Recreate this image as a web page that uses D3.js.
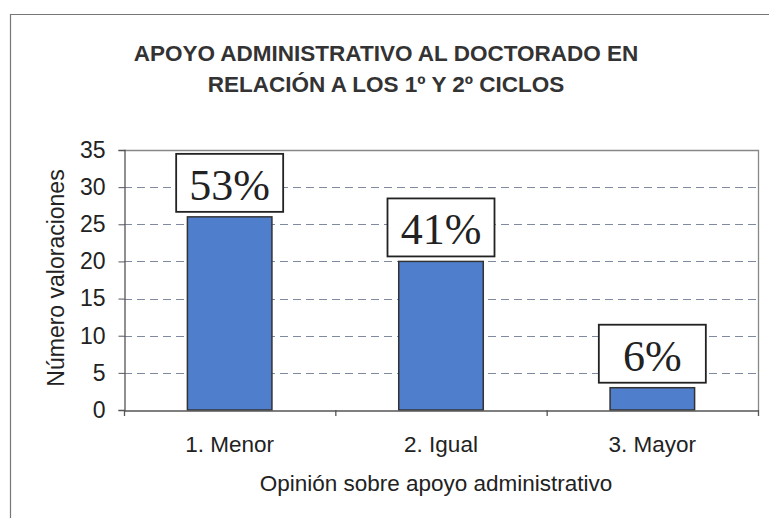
<!DOCTYPE html>
<html>
<head>
<meta charset="utf-8">
<script src="https://cdn.jsdelivr.net/npm/d3@7"></script>
<style>
  html, body { margin: 0; padding: 0; background: #fff; }
  svg { display: block; }
  text { font-family: "Liberation Sans", Arial, sans-serif; fill: #222; }
</style>
</head>
<body>
<svg id="chart" width="769" height="518"></svg>
<script>
const categories = ["1. Menor", "2. Igual", "3. Mayor"];
const values = [26, 20, 3];
const percentLabels = ["53%", "41%", "6%"];
const yTicks = [0, 5, 10, 15, 20, 25, 30, 35];
const titleLines = ["APOYO ADMINISTRATIVO AL DOCTORADO EN", "RELACIÓN A LOS 1º Y 2º CICLOS"];
const yTitle = "Número valoraciones";
const xTitle = "Opinión sobre apoyo administrativo";

const svg = d3.select("#chart");
const W = 769, H = 518;
const plot = { left: 124, top: 150, right: 758, bottom: 410 };
const sans = "'Liberation Sans', Arial, sans-serif";

// outer border (only left/top visible in frame)
svg.append("path")
  .attr("d", `M10.5,${H} L10.5,14.5 L${W},14.5`)
  .attr("fill", "none").attr("stroke", "#777").attr("stroke-width", 1.2);

// title
const title = svg.append("text")
  .attr("text-anchor", "middle")
  .style("font-weight", "bold").style("font-size", "22.5px").style("fill", "#333");
titleLines.forEach((t, i) => {
  title.append("tspan").attr("x", 386).attr("y", 61 + i * 31).text(t);
});

const x = d3.scaleBand().domain(categories).range([plot.left, plot.right]).paddingInner(0.6).paddingOuter(0.3);
const xOuter = d3.scaleBand().domain(categories).range([plot.left, plot.right]);
const y = d3.scaleLinear().domain([0, 35]).range([plot.bottom, plot.top]);

// gridlines
svg.append("g").selectAll("line").data(yTicks.filter(d => d > 0 && d < 35)).join("line")
  .attr("x1", plot.left).attr("x2", plot.right)
  .attr("y1", d => Math.round(y(d)) + 0.5).attr("y2", d => Math.round(y(d)) + 0.5)
  .attr("stroke", "#7f8aa0").attr("stroke-width", 1).attr("stroke-dasharray", "8,5");

// plot area border (top/right)
svg.append("path")
  .attr("d", `M${plot.left},${plot.top + 0.5} L${plot.right + 0.5},${plot.top + 0.5} L${plot.right + 0.5},${plot.bottom}`)
  .attr("fill", "none").attr("stroke", "#888").attr("stroke-width", 1.3);

// bars
svg.append("g").selectAll("rect").data(values).join("rect")
  .attr("x", (d, i) => x(categories[i]))
  .attr("y", d => y(d))
  .attr("width", x.bandwidth())
  .attr("height", d => y(0) - y(d))
  .attr("fill", "#4f7fcc").attr("stroke", "#333").attr("stroke-width", 1.5);

// y axis
const yAxis = d3.axisLeft(y).tickValues(yTicks).tickSize(6).tickPadding(13).tickFormat(d3.format("d"));
const gy = svg.append("g").attr("transform", `translate(${plot.left + 0.5},0)`).call(yAxis);
gy.select(".domain").attr("stroke", "#555").attr("stroke-width", 1.3);
gy.selectAll(".tick line").attr("stroke", "#555");
gy.selectAll(".tick text").style("font-size", "23px").style("font-family", sans).attr("fill", "#222");

// x axis
const xAxis = d3.axisBottom(xOuter).tickSize(0).tickPadding(26);
const gx = svg.append("g").attr("transform", `translate(0,${plot.bottom + 0.5})`).call(xAxis);
gx.select(".domain").attr("stroke", "#555").attr("stroke-width", 1.3);
gx.selectAll(".tick text").style("font-size", "22.5px").style("font-family", sans).attr("fill", "#222");
// boundary tick marks
const boundaries = categories.map(c => xOuter(c)).concat([plot.right]);
svg.append("g").selectAll("line").data(boundaries).join("line")
  .attr("x1", d => d + 0.5).attr("x2", d => d + 0.5)
  .attr("y1", plot.bottom).attr("y2", plot.bottom + 6)
  .attr("stroke", "#555").attr("stroke-width", 1.3);

// axis titles
svg.append("text")
  .attr("transform", `translate(64,${(plot.top + plot.bottom) / 2 - 2}) rotate(-90)`)
  .attr("text-anchor", "middle").style("font-size", "23px").text(yTitle);
svg.append("text")
  .attr("x", 436).attr("y", 491)
  .attr("text-anchor", "middle").style("font-size", "22.5px").text(xTitle);

// percentage label boxes
const boxW = 107, boxH = 58, gap = 5;
const lbl = svg.append("g").selectAll("g").data(values).join("g")
  .attr("transform", (d, i) => `translate(${x(categories[i]) + x.bandwidth() / 2},${y(d) - gap - boxH})`);
lbl.append("rect")
  .attr("x", -boxW / 2).attr("y", 0).attr("width", boxW).attr("height", boxH)
  .attr("fill", "#fff").attr("stroke", "#222").attr("stroke-width", 1.8);
lbl.append("text")
  .attr("x", 0).attr("y", 46)
  .attr("text-anchor", "middle")
  .style("font-family", "'Liberation Serif', 'Times New Roman', serif")
  .style("font-size", "44px").style("fill", "#222")
  .text((d, i) => percentLabels[i]);
</script>
</body>
</html>
